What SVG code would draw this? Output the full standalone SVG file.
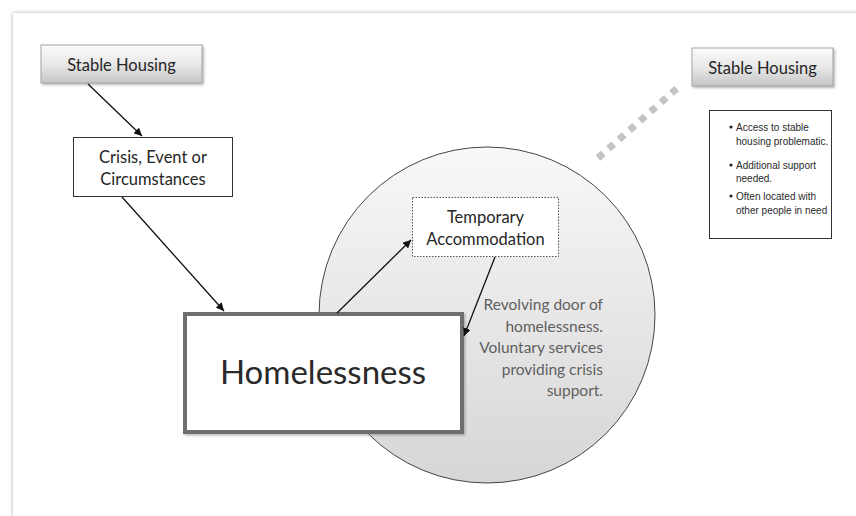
<svg xmlns="http://www.w3.org/2000/svg" width="856" height="516" viewBox="0 0 856 516">
<defs>
<style>
.lbl{font-family:Lato,"Liberation Sans",sans-serif;font-size:16.5px;fill:#262626;text-anchor:middle}
.big{font-family:Lato,"Liberation Sans",sans-serif;font-size:33px;fill:#2a2a2a;text-anchor:middle}
.note{font-family:Lato,"Liberation Sans",sans-serif;font-size:15.5px;fill:#5f5f5f;text-anchor:end}
.bul{font-family:"Liberation Sans",Arial,sans-serif;font-size:10px;fill:#2a2a2a}
.conn{stroke:#111;stroke-width:1.3;fill:none;marker-end:url(#ah)}
</style>
<linearGradient id="gBtn" x1="0" y1="0" x2="0" y2="1">
<stop offset="0" stop-color="#fbfbfb"/>
<stop offset="0.5" stop-color="#e8e8e8"/>
<stop offset="1" stop-color="#c6c6c6"/>
</linearGradient>
<linearGradient id="gCirc" x1="0" y1="0" x2="0" y2="1">
<stop offset="0" stop-color="#f8f8f8"/>
<stop offset="1" stop-color="#d6d6d6"/>
</linearGradient>
<filter id="pageSh" x="-5%" y="-5%" width="110%" height="110%">
<feDropShadow dx="0" dy="0" stdDeviation="2" flood-color="#999" flood-opacity="0.8"/>
</filter>
<filter id="sh" x="-10%" y="-10%" width="130%" height="140%">
<feDropShadow dx="1.5" dy="1.5" stdDeviation="1" flood-color="#888" flood-opacity="0.6"/>
</filter>
<marker id="ah" viewBox="0 0 10 10" refX="10" refY="5" markerWidth="8" markerHeight="8" markerUnits="userSpaceOnUse" orient="auto">
<path d="M0,0 L10,5 L0,10 z" fill="#111"/>
</marker>
</defs>
<rect x="0" y="0" width="856" height="516" fill="#ffffff"/>
<rect x="13" y="13" width="900" height="560" fill="#ffffff" filter="url(#pageSh)"/>

<g id="revolving-circle">
<circle cx="487" cy="315" r="168" fill="url(#gCirc)" stroke="#444" stroke-width="1"/>
</g>

<g id="dotted-link">
<line x1="598" y1="158" x2="682" y2="84" stroke="#c4c4c4" stroke-width="7" stroke-dasharray="7 7"/>
</g>

<g id="stable-housing-left">
<rect x="41" y="45" width="161" height="38" fill="url(#gBtn)" stroke="#a6a6a6" stroke-width="1" filter="url(#sh)"/>
<text class="lbl" x="121.5" y="70.5">Stable Housing</text>
</g>

<g id="crisis">
<rect x="73.5" y="137.5" width="159" height="59" fill="#fff" stroke="#333" stroke-width="1"/>
<text class="lbl" x="153" y="163">Crisis, Event or</text>
<text class="lbl" x="153" y="185">Circumstances</text>
</g>

<g id="homelessness">
<rect x="185" y="314" width="277" height="118" fill="#fff" stroke="#6e6e6e" stroke-width="4" filter="url(#sh)"/>
<text class="big" x="323" y="384">Homelessness</text>
</g>

<g id="temporary-accommodation">
<rect x="412.5" y="197.5" width="146" height="59" fill="#fff" stroke="#555" stroke-width="1" stroke-dasharray="1.5 1.5"/>
<text class="lbl" x="485.5" y="223">Temporary</text>
<text class="lbl" x="485.5" y="245">Accommodation</text>
</g>

<g id="revolving-note">
<text class="note" x="603" y="310">Revolving door of</text>
<text class="note" x="603" y="331.5">homelessness.</text>
<text class="note" x="603" y="353">Voluntary services</text>
<text class="note" x="603" y="374.5">providing crisis</text>
<text class="note" x="603" y="396">support.</text>
</g>

<g id="stable-housing-right">
<rect x="692" y="48" width="141" height="38" fill="url(#gBtn)" stroke="#a6a6a6" stroke-width="1" filter="url(#sh)"/>
<text class="lbl" x="762.5" y="73.5">Stable Housing</text>
</g>

<g id="notes-box">
<rect x="709.5" y="110.5" width="122" height="128" fill="#fff" stroke="#333" stroke-width="1"/>
<circle cx="731" cy="127" r="1.6" fill="#222"/>
<text class="bul" x="736" y="131">Access to stable</text>
<text class="bul" x="736" y="145">housing problematic.</text>
<circle cx="731" cy="165" r="1.6" fill="#222"/>
<text class="bul" x="736" y="169">Additional support</text>
<text class="bul" x="736" y="182">needed.</text>
<circle cx="731" cy="196" r="1.6" fill="#222"/>
<text class="bul" x="736" y="200">Often located with</text>
<text class="bul" x="736" y="214">other people  in need</text>
</g>

<g id="connectors">
<line class="conn" x1="88" y1="84" x2="142" y2="136"/>
<line class="conn" x1="122" y1="197" x2="224" y2="311"/>
<line class="conn" x1="337" y1="313" x2="411" y2="240"/>
<line class="conn" x1="495" y1="257" x2="464" y2="336"/>
</g>
</svg>
